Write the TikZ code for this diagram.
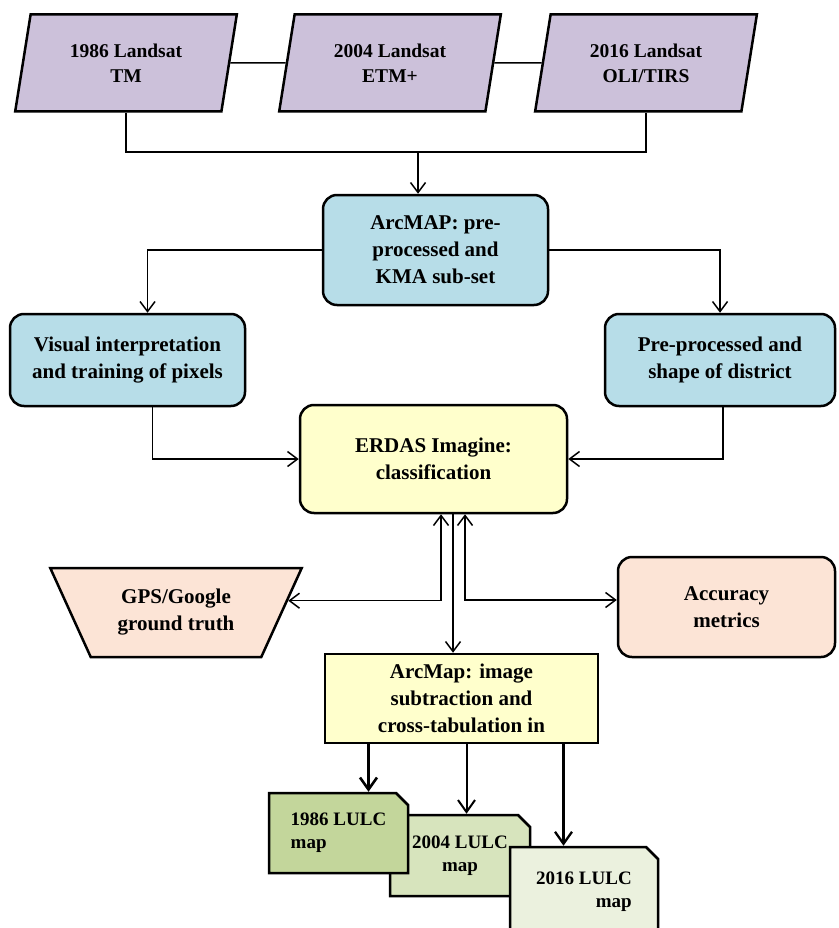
\documentclass[tikz,border=0pt]{standalone}
\usepackage{fontspec}
\setmainfont{Liberation Serif}
\usetikzlibrary{shapes.geometric,shapes.misc,arrows.meta}

\definecolor{landsat}{HTML}{CCC1DA}
\definecolor{arcblue}{HTML}{B7DDE8}
\definecolor{erdas}{HTML}{FFFFCC}
\definecolor{peach}{HTML}{FCE4D6}
\definecolor{mapa}{HTML}{C3D69B}
\definecolor{mapb}{HTML}{D7E4BD}
\definecolor{mapc}{HTML}{EBF1DE}

\begin{document}
\begin{tikzpicture}[x=1pt,y=-1pt,line width=1.5pt,
        >={Straight Barb[length=10pt,width=15pt]},
        txt/.style={font=\fontsize{21}{27}\selectfont\bfseries, align=center},
        sat/.style={draw, line width=2.5pt, fill=landsat, shape=trapezium,
            trapezium left angle=78, trapezium right angle=102, trapezium stretches=true,
            minimum width=222pt, minimum height=97pt,
            font=\fontsize{19.5}{25}\selectfont\bfseries, align=center},
        rbox/.style={draw, line width=2.5pt, rounded corners=14pt, txt},
        lulc/.style={draw, line width=2.5pt, shape=chamfered rectangle,
            chamfered rectangle corners=north east,
            chamfered rectangle xsep=6pt, chamfered rectangle ysep=6pt,
            font=\fontsize{19}{23}\selectfont\bfseries},
        bigarr/.style={-{Straight Barb[length=12pt,width=17pt]}}]
        \clip (0,0) rectangle (838,928);

        % landsat scenes
        \node[sat] (l86) at (126,63) {1986 Landsat\\TM};
        \node[sat] (l04) at (390,63) {2004 Landsat\\ETM+};
        \node[sat] (l16) at (646,63) {2016 Landsat\\OLI/TIRS};
        \draw (l86) -- (l04);
        \draw (l04) -- (l16);
        \coordinate (jn) at (418,152);
        \draw (l86.south) |- (jn) -| (l16.south);

        % processing
        \node[rbox, fill=arcblue, minimum width=225pt, minimum height=110pt] (arc) at (435.5,250) {ArcMAP: pre-\\processed and\\KMA sub-set};
        \node[rbox, fill=arcblue, minimum width=235pt, minimum height=92pt] (vis) at (127.5,360) {Visual interpretation\\and training of pixels};
        \node[rbox, fill=arcblue, minimum width=230pt, minimum height=92pt] (pre) at (720,360) {Pre-processed and\\shape of district};
        \node[rbox, fill=erdas, minimum width=267pt, minimum height=108pt] (erd) at (433.5,459) {ERDAS Imagine:\\classification};
        \node[draw, line width=2.5pt, fill=peach, shape=trapezium, trapezium left angle=119,
            trapezium right angle=119, trapezium stretches=true,
            minimum width=252pt, minimum height=89pt, txt] (gps) at (176,612.5) {GPS/Google\\ground truth};
        \node[rbox, fill=peach, minimum width=217pt, minimum height=100pt] (acc) at (726.5,607) {Accuracy\\metrics};
        \node[draw, line width=2.5pt, fill=erdas, minimum width=273pt, minimum height=89pt, txt] (amap) at (461.5,698.5) {ArcMap: image\\subtraction and\\cross-tabulation in};

        \draw[->] (jn) -- (jn |- arc.north);
        \draw[->] (arc.west) -| ([xshift=20pt]vis.north);
        \draw[->] (arc.east) -| (pre.north);
        \draw[->] ([xshift=25pt]vis.south) |- (erd.west);
        \draw[->] ([xshift=3pt]pre.south) |- (erd.east);
        \draw[<->] ([xshift=7.5pt]erd.south) |- (gps.6);
        \draw[<->] ([xshift=31.5pt]erd.south) |- ([yshift=7pt]acc.west);
        \draw[->] ([xshift=19.5pt]erd.south) -- ([xshift=19.5pt]erd.south |- amap.north);

        % maps
        \node[lulc, fill=mapb, minimum width=140pt, minimum height=81pt, align=center] (m04) at (460,855.5) {2004 LULC\\map};
        \node[lulc, fill=mapa, minimum width=139pt, minimum height=80pt, align=left] (m86) at (338.5,833) {1986 LULC\\map};
        \node[lulc, fill=mapc, minimum width=148pt, minimum height=90pt, align=right] (m16) at (584,892) {2016 LULC\\map};
        \draw[bigarr, line width=2.6pt] ([xshift=-93pt]amap.south) -- ([xshift=-93pt]amap.south |- m86.north);
        \draw[bigarr, line width=2pt] ([xshift=5pt]amap.south) -- ([xshift=5pt]amap.south |- m04.north);
        \draw[bigarr, line width=2.3pt] ([xshift=102pt]amap.south) -- ([xshift=102pt]amap.south |- m16.north);
    \end{tikzpicture}
\end{document}
